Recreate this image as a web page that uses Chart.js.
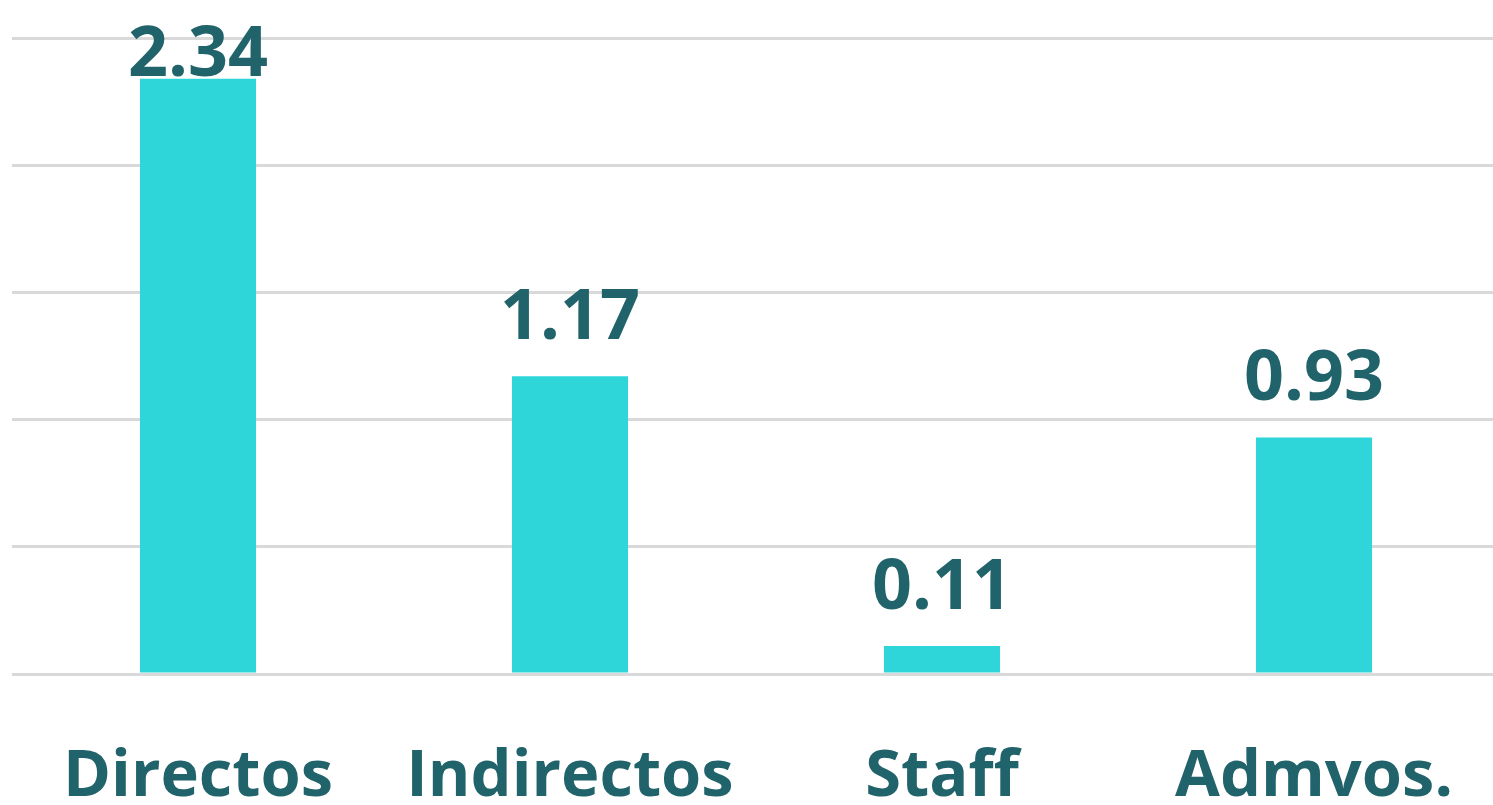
<!DOCTYPE html>
<html>
<head>
<meta charset="utf-8">
<script src="https://cdn.jsdelivr.net/npm/chart.js@4.4.1/dist/chart.umd.min.js"></script>
<style>
  html, body { margin: 0; padding: 0; background: #ffffff; overflow: hidden; }
  #wrap { position: relative; width: 1500px; height: 805px; }
</style>
</head>
<body>
<div id="wrap"><canvas id="c"></canvas></div>
<script>
const categories = ["Directos", "Indirectos", "Staff", "Admvos."];
const values = [2.34, 1.17, 0.11, 0.93];
const yTicks = [0, 0.5, 1, 1.5, 2, 2.5];

const textColor = "#21636b";
const barColor = "#2ed6da";
const fontFamily = "'Open Sans', 'DejaVu Sans', sans-serif";

const valueLabels = {
  id: "valueLabels",
  afterDatasetsDraw(chart) {
    const ctx = chart.ctx;
    const meta = chart.getDatasetMeta(0);
    const area = chart.chartArea;
    ctx.save();
    ctx.font = "bold 70px " + fontFamily;
    ctx.fillStyle = textColor;
    ctx.textAlign = "center";
    ctx.textBaseline = "alphabetic";
    meta.data.forEach((bar, i) => {
      const v = chart.data.datasets[0].data[i];
      const y = Math.max(bar.y - 37, area.top + 38);
      ctx.fillText(v.toFixed(2), bar.x, y);
    });
    ctx.restore();
  }
};

new Chart(document.getElementById("c"), {
  type: "bar",
  data: {
    labels: categories,
    datasets: [{
      data: values,
      backgroundColor: barColor,
      borderWidth: 0,
      barPercentage: 0.312,
      categoryPercentage: 1
    }]
  },
  options: {
    responsive: true,
    maintainAspectRatio: false,
    animation: false,
    events: [],
    layout: { padding: { top: 38, left: 12, right: 0, bottom: 0 } },
    plugins: { legend: { display: false }, tooltip: { enabled: false } },
    scales: {
      x: {
        grid: { display: false, drawTicks: false },
        border: { display: false },
        afterFit(axis) { axis.height = 131; },
        ticks: {
          color: textColor,
          font: { family: fontFamily, size: 65, weight: "bold", lineHeight: "137px" },
          padding: 35,
          maxRotation: 0,
          autoSkip: false
        }
      },
      y: {
        min: yTicks[0],
        max: yTicks[yTicks.length - 1],
        afterBuildTicks(axis) { axis.ticks = yTicks.map(v => ({ value: v })); },
        grid: { color: "#d9d9d9", lineWidth: 3, drawTicks: false },
        border: { display: false },
        ticks: { display: false }
      }
    }
  },
  plugins: [valueLabels]
});
</script>
</body>
</html>
